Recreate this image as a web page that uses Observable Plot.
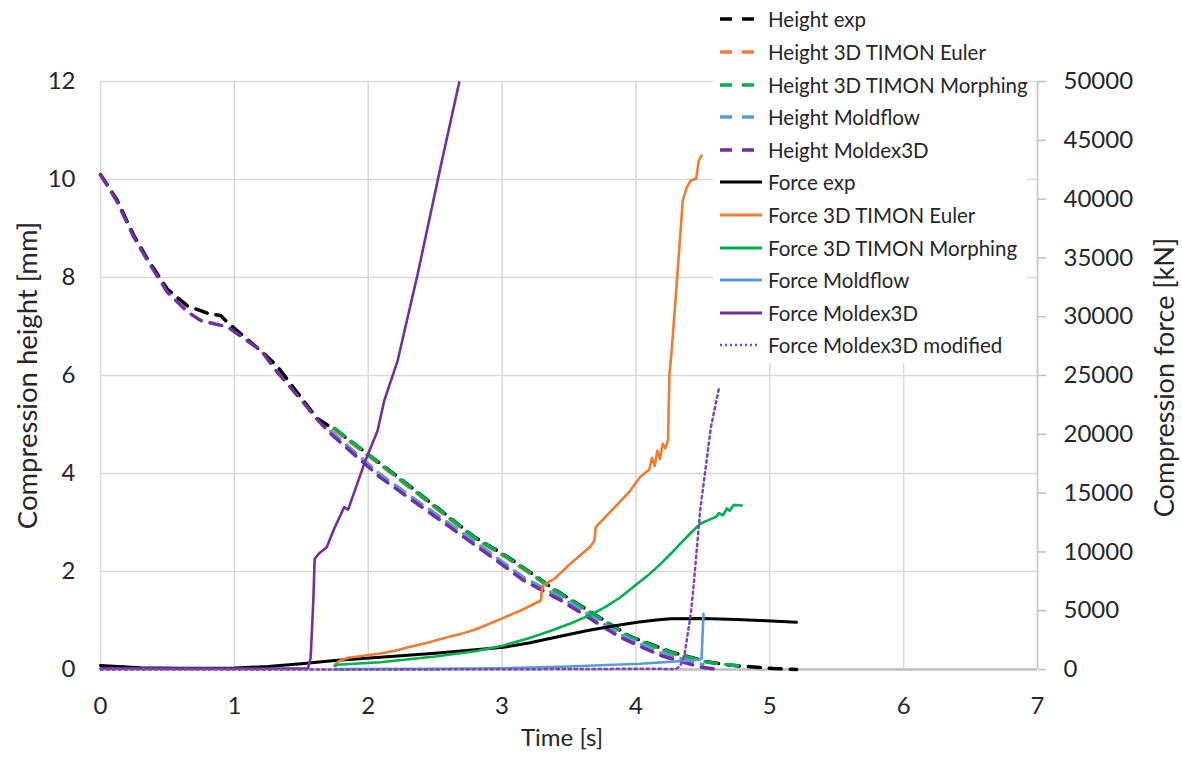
<!DOCTYPE html>
<html><head><meta charset="utf-8">
<script src="https://cdn.jsdelivr.net/npm/d3@7"></script>
<script src="https://cdn.jsdelivr.net/npm/@observablehq/plot@0.6"></script>
<style>
body{margin:0;background:#fff;}
#wrap{position:relative;width:1182px;height:762px;font-family:Lato,sans-serif;}
#legend{position:absolute;left:713px;top:0;width:314px;height:363px;background:#fff;}
.item{position:absolute;left:0;height:30px;display:flex;align-items:center;font-size:20.5px;color:#262626;white-space:nowrap;}
.item svg{margin-left:7px;margin-right:6px;}
</style></head><body><div id="wrap"><div id="chart"></div><div id="legend"></div></div>
<script>
// ---- data: [time s, compression height mm] ----
const heightExp = [[0,10.1],[0.12,9.6],[0.25,8.85],[0.35,8.38],[0.5,7.76],[0.65,7.42],[0.8,7.27],[0.9,7.22],[0.95,7.08],[1.07,6.8],[1.2,6.5],[1.32,6.19],[1.49,5.58],[1.62,5.12],[1.77,4.86],[2.17,4.04],[2.54,3.25],[2.79,2.71],[3.04,2.3],[3.26,1.89],[3.36,1.69],[3.64,1.21],[3.96,0.67],[4.26,0.36],[4.53,0.16],[4.7,0.09],[4.88,0.05],[5.03,0.02],[5.2,0]];
const heightEuler = [[1.74,4.9],[2.17,4.01],[2.54,3.22],[2.79,2.68],[3.04,2.27],[3.26,1.86],[3.36,1.66],[3.64,1.18],[3.96,0.64],[4.26,0.33],[4.49,0.17]];
const heightMorphing = [[1.75,4.92],[2.17,4.03],[2.54,3.24],[2.79,2.7],[3.04,2.29],[3.26,1.88],[3.36,1.68],[3.64,1.2],[3.96,0.66],[4.26,0.35],[4.53,0.15],[4.65,0.11],[4.79,0.07]];
const heightMoldflow = [[1.72,4.86],[2.09,3.98],[2.49,3.2],[2.89,2.42],[3.16,1.88],[3.44,1.47],[3.88,0.72],[4.18,0.34],[4.5,0.1]];
const heightMoldex3D = [[0,10.1],[0.12,9.57],[0.25,8.82],[0.35,8.35],[0.5,7.7],[0.65,7.3],[0.75,7.12],[0.95,6.99],[1.2,6.51],[1.32,6.07],[1.5,5.5],[1.62,5.1],[1.72,4.81],[2.09,3.92],[2.49,3.14],[2.89,2.36],[3.16,1.82],[3.44,1.41],[3.88,0.66],[4.18,0.29],[4.48,0.05],[4.63,0]];

// ---- data: [time s, compression force kN] ----
const forceExp = [[0,340],[0.3,150],[0.6,100],[1.0,120],[1.25,250],[1.5,485],[1.75,765],[2.09,1046],[2.5,1380],[2.8,1680],[3.01,1896],[3.2,2250],[3.4,2750],[3.64,3316],[3.83,3700],[4.01,4020],[4.15,4200],[4.26,4310],[4.5,4330],[4.75,4250],[4.93,4166],[5.2,4020]];
const forceEuler = [[1.75,400],[1.78,700],[1.85,1000],[1.95,1150],[2.09,1360],[2.2,1600],[2.3,1900],[2.45,2300],[2.59,2747],[2.7,3050],[2.8,3400],[2.91,3911],[3.0,4350],[3.14,5020],[3.29,5870],[3.3,7100],[3.4,7800],[3.51,8990],[3.66,10450],[3.69,10970],[3.7,12100],[3.85,13900],[3.95,15100],[4.03,16350],[4.1,17000],[4.12,18000],[4.14,17300],[4.16,18600],[4.18,17900],[4.2,19200],[4.22,18800],[4.24,19500],[4.25,25000],[4.27,27500],[4.31,33646],[4.35,39880],[4.38,41000],[4.41,41580],[4.45,41750],[4.47,43280],[4.49,43700]];
const forceMorphing = [[1.75,300],[1.77,400],[2.09,620],[2.5,1100],[2.8,1550],[3.01,2040],[3.2,2650],[3.37,3316],[3.52,3950],[3.66,4650],[3.77,5300],[3.88,6100],[4.01,7290],[4.1,8100],[4.2,9150],[4.26,9840],[4.33,10688],[4.4,11500],[4.48,12390],[4.55,12750],[4.6,13000],[4.62,13300],[4.65,13100],[4.68,13700],[4.7,13500],[4.73,14000],[4.79,13950]];
const forceMoldflow = [[1.75,30],[2.5,60],[3.0,100],[3.5,250],[4.03,485],[4.41,765],[4.49,900],[4.505,4735]];
const forceMoldex3D = [[0,100],[1.0,80],[1.55,100],[1.57,1000],[1.59,5870],[1.6,9400],[1.63,9838],[1.69,10400],[1.74,11820],[1.82,13800],[1.85,13600],[1.98,17800],[2.07,20300],[2.12,22870],[2.22,26270],[2.37,33650],[2.54,42700],[2.68,49940]];
const forceMoldex3DMod = [[0,0],[2.0,0],[3.0,20],[4.0,60],[4.3,50],[4.33,300],[4.36,1045],[4.41,4735],[4.43,7000],[4.48,13520],[4.56,20600],[4.62,23870]];

// ---- ticks / labels ----
const xTicks = [0,1,2,3,4,5,6,7];
const heightTicks = [0,2,4,6,8,10,12];
const forceTicks = [0,5000,10000,15000,20000,25000,30000,35000,40000,45000,50000];
const legendLabels = ["Height exp","Height 3D TIMON Euler","Height 3D TIMON Morphing","Height Moldflow","Height Moldex3D","Force exp","Force 3D TIMON Euler","Force 3D TIMON Morphing","Force Moldflow","Force Moldex3D","Force Moldex3D modified"];
const seriesColors = ["#000000","#ED7D31","#00B050","#5B9BD5","#7030A0","#000000","#ED7D31","#00B050","#5B9BD5","#7030A0","#8046b8"];
const seriesKinds = ["dash","dash","dash","dash","dash","solid","solid","solid","solid","solid","dot"];

const FMAX = 50000, HMAX = 12;
const toMM = f => f * HMAX / FMAX;

const heights = [heightExp, heightEuler, heightMorphing, heightMoldflow, heightMoldex3D];
const forces = [forceExp, forceEuler, forceMorphing, forceMoldflow, forceMoldex3D, forceMoldex3DMod];

const marks = [
  Plot.gridX(xTicks, {stroke:"#d9d9d9", strokeOpacity:1, strokeWidth:1.5}),
  Plot.gridY(heightTicks, {stroke:"#d9d9d9", strokeOpacity:1, strokeWidth:1.5}),
  Plot.ruleX([7], {stroke:"#c8c8c8", strokeWidth:1.5}),
  Plot.ruleY([0], {stroke:"#bfbfbf", strokeWidth:2.5}),
  Plot.axisX(xTicks, {tickSize:0, tickPadding:27, fontSize:24, label:null, tickFormat: d => String(d)}),
  Plot.axisY(heightTicks, {tickSize:0, tickPadding:25, fontSize:24, label:null, tickFormat: d => String(d)}),
  Plot.axisY(forceTicks.map(toMM), {anchor:"right", tickSize:8, tickPadding:18, stroke:"#bfbfbf", strokeWidth:1.5, fontSize:24, label:null, tickFormat: d => String(Math.round(d*FMAX/HMAX))}),
];
heights.forEach((s,i) => {
  marks.push(Plot.line(s, {x: d=>d[0], y: d=>d[1], stroke: seriesColors[i], strokeWidth:3.5, strokeDasharray:"12,9"}));
});
forces.forEach((s,j) => {
  const i = j + 5;
  const dot = seriesKinds[i] === "dot";
  marks.push(Plot.line(s, {x: d=>d[0], y: d=>toMM(d[1]), stroke: seriesColors[i], strokeWidth: dot ? 2.5 : (j===0 ? 3 : 2.6), strokeDasharray: dot ? "2.5,3.5" : null, strokeLinejoin:"round"}));
});
marks.push(
  Plot.text(["Time [s]"], {frameAnchor:"bottom", dx:-7, dy:76, fontSize:24, fill:"#262626"}),
  Plot.text(["Compression height [mm]"], {frameAnchor:"left", textAnchor:"middle", dx:-72, rotate:-90, fontSize:27.5, fill:"#262626"}),
  Plot.text(["Compression force [kN]"], {frameAnchor:"right", textAnchor:"middle", dx:128, dy:2, rotate:-90, fontSize:27, fill:"#262626"})
);

const chart = Plot.plot({
  width:1182, height:762,
  marginLeft:100, marginRight:145, marginTop:81, marginBottom:93,
  x:{domain:[0,7]},
  y:{domain:[0,12]},
  style:{fontFamily:"Lato, sans-serif", color:"#262626", background:"#fff"},
  marks
});
document.getElementById("chart").appendChild(chart);

// legend
const lg = document.getElementById("legend");
legendLabels.forEach((lab,i) => {
  const div = document.createElement("div");
  div.className = "item";
  div.style.top = (19.3 + 32.6*i - 15) + "px";
  const kind = seriesKinds[i];
  const dash = kind==="dash" ? "12,10" : kind==="dot" ? "2,3" : "none";
  const w = kind==="dash" ? 3.5 : kind==="dot" ? 2.5 : 3;
  div.innerHTML = `<svg width="42" height="10"><line x1="0" x2="${kind==='dot'?40:42}" y1="5" y2="5" stroke="${seriesColors[i]}" stroke-width="${w}" stroke-dasharray="${dash}"/></svg><span>${lab}</span>`;
  lg.appendChild(div);
});
</script></body></html>
